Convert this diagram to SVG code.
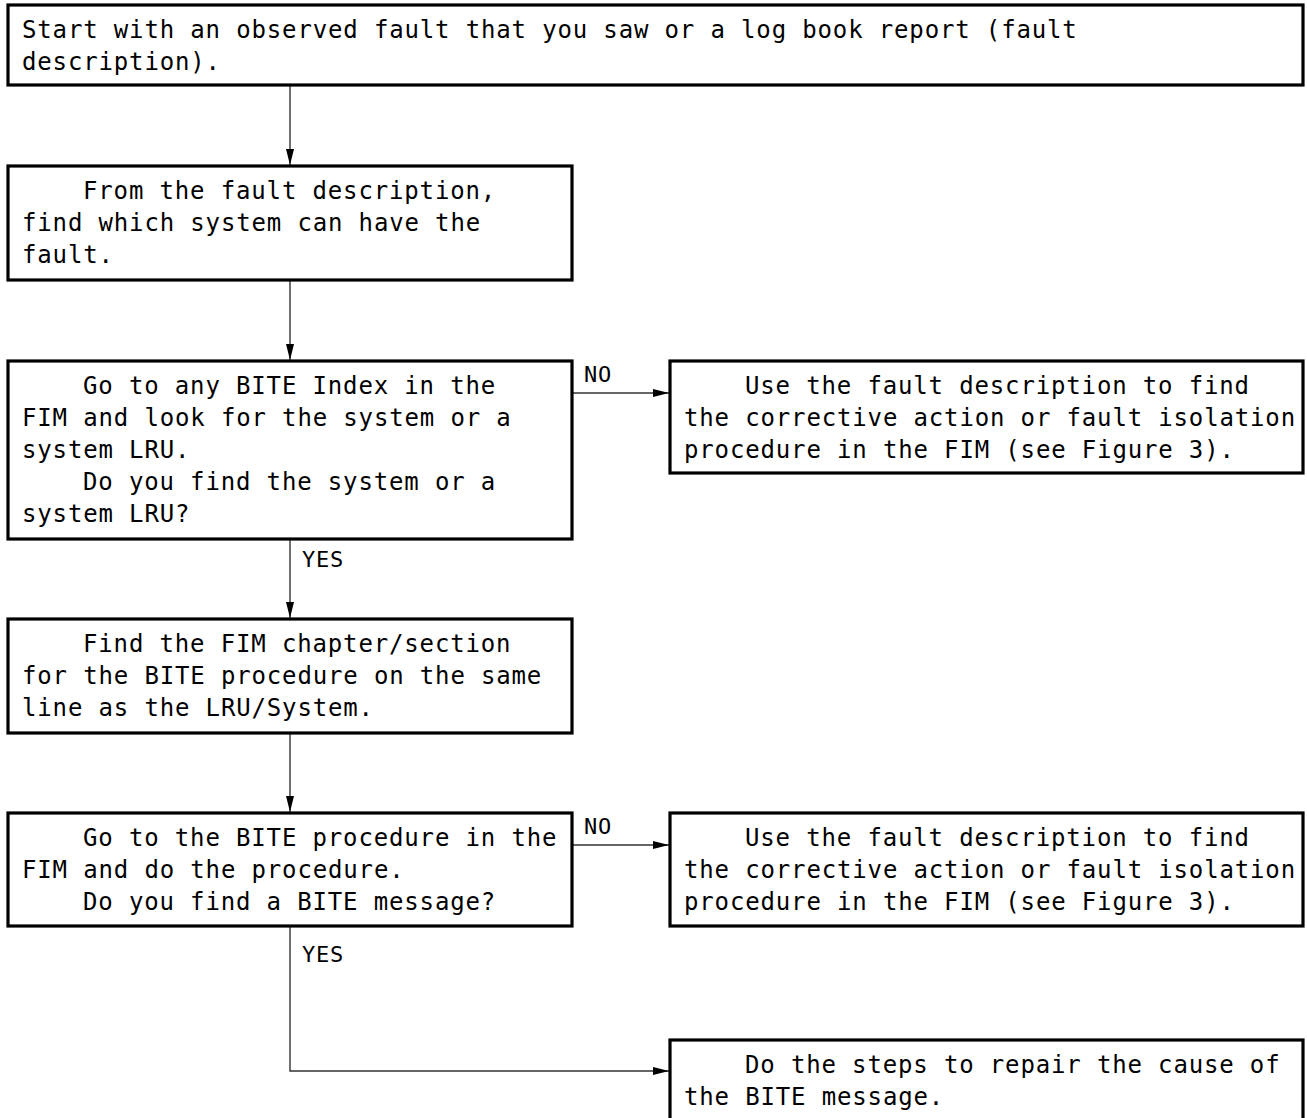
<svg xmlns="http://www.w3.org/2000/svg" width="1307" height="1118" viewBox="0 0 1307 1118">
<style>
.box{fill:#fff;stroke:#000;stroke-width:3.2}
.t{font-family:"DejaVu Sans Mono","Liberation Mono",monospace;font-size:24px;letter-spacing:0.85px;fill:#000}
.lbl{font-family:"DejaVu Sans Mono","Liberation Mono",monospace;font-size:22px;letter-spacing:0.8px;fill:#000}
.c{fill:none;stroke:#333;stroke-width:1.4}
</style>
<defs>
<marker id="ah" markerWidth="16" markerHeight="8" refX="16" refY="4" orient="auto" markerUnits="userSpaceOnUse">
<path d="M0,0 L16,4 L0,8 Z" fill="#000"/>
</marker>
</defs>
<rect width="1307" height="1118" fill="#fff"/>
<g id="connectors">
<line class="c" x1="290" y1="86" x2="290" y2="165" marker-end="url(#ah)"/>
<line class="c" x1="290" y1="280" x2="290" y2="360" marker-end="url(#ah)"/>
<line class="c" x1="572" y1="393" x2="669" y2="393" marker-end="url(#ah)"/>
<line class="c" x1="290" y1="539" x2="290" y2="618" marker-end="url(#ah)"/>
<line class="c" x1="290" y1="733" x2="290" y2="812" marker-end="url(#ah)"/>
<line class="c" x1="572" y1="845" x2="669" y2="845" marker-end="url(#ah)"/>
<polyline class="c" points="290,926 290,1071 669,1071" marker-end="url(#ah)"/>
<text class="lbl" x="584" y="382">NO</text>
<text class="lbl" x="302" y="567">YES</text>
<text class="lbl" x="584" y="834">NO</text>
<text class="lbl" x="302" y="962">YES</text>
</g>
<g id="n1">
<rect class="box" x="8" y="5" width="1295" height="80"/>
<text class="t" x="22" y="38">Start with an observed fault that you saw or a log book report (fault</text>
<text class="t" x="22" y="70">description).</text>
</g>
<g id="n2">
<rect class="box" x="8" y="166" width="564" height="114"/>
<text class="t" x="83" y="199">From the fault description,</text>
<text class="t" x="22" y="231">find which system can have the</text>
<text class="t" x="22" y="263">fault.</text>
</g>
<g id="n3">
<rect class="box" x="8" y="361" width="564" height="178"/>
<text class="t" x="83" y="394">Go to any BITE Index in the</text>
<text class="t" x="22" y="426">FIM and look for the system or a</text>
<text class="t" x="22" y="458">system LRU.</text>
<text class="t" x="83" y="490">Do you find the system or a</text>
<text class="t" x="22" y="522">system LRU?</text>
</g>
<g id="n3no">
<rect class="box" x="670" y="361" width="633" height="112"/>
<text class="t" x="745" y="394">Use the fault description to find</text>
<text class="t" x="684" y="426">the corrective action or fault isolation</text>
<text class="t" x="684" y="458">procedure in the FIM (see Figure 3).</text>
</g>
<g id="n4">
<rect class="box" x="8" y="619" width="564" height="114"/>
<text class="t" x="83" y="652">Find the FIM chapter/section</text>
<text class="t" x="22" y="684">for the BITE procedure on the same</text>
<text class="t" x="22" y="716">line as the LRU/System.</text>
</g>
<g id="n5">
<rect class="box" x="8" y="813" width="564" height="113"/>
<text class="t" x="83" y="846">Go to the BITE procedure in the</text>
<text class="t" x="22" y="878">FIM and do the procedure.</text>
<text class="t" x="83" y="910">Do you find a BITE message?</text>
</g>
<g id="n5no">
<rect class="box" x="670" y="813" width="633" height="113"/>
<text class="t" x="745" y="846">Use the fault description to find</text>
<text class="t" x="684" y="878">the corrective action or fault isolation</text>
<text class="t" x="684" y="910">procedure in the FIM (see Figure 3).</text>
</g>
<g id="n6">
<rect class="box" x="670" y="1040" width="633" height="100"/>
<text class="t" x="745" y="1073">Do the steps to repair the cause of</text>
<text class="t" x="684" y="1105">the BITE message.</text>
</g>
</svg>
